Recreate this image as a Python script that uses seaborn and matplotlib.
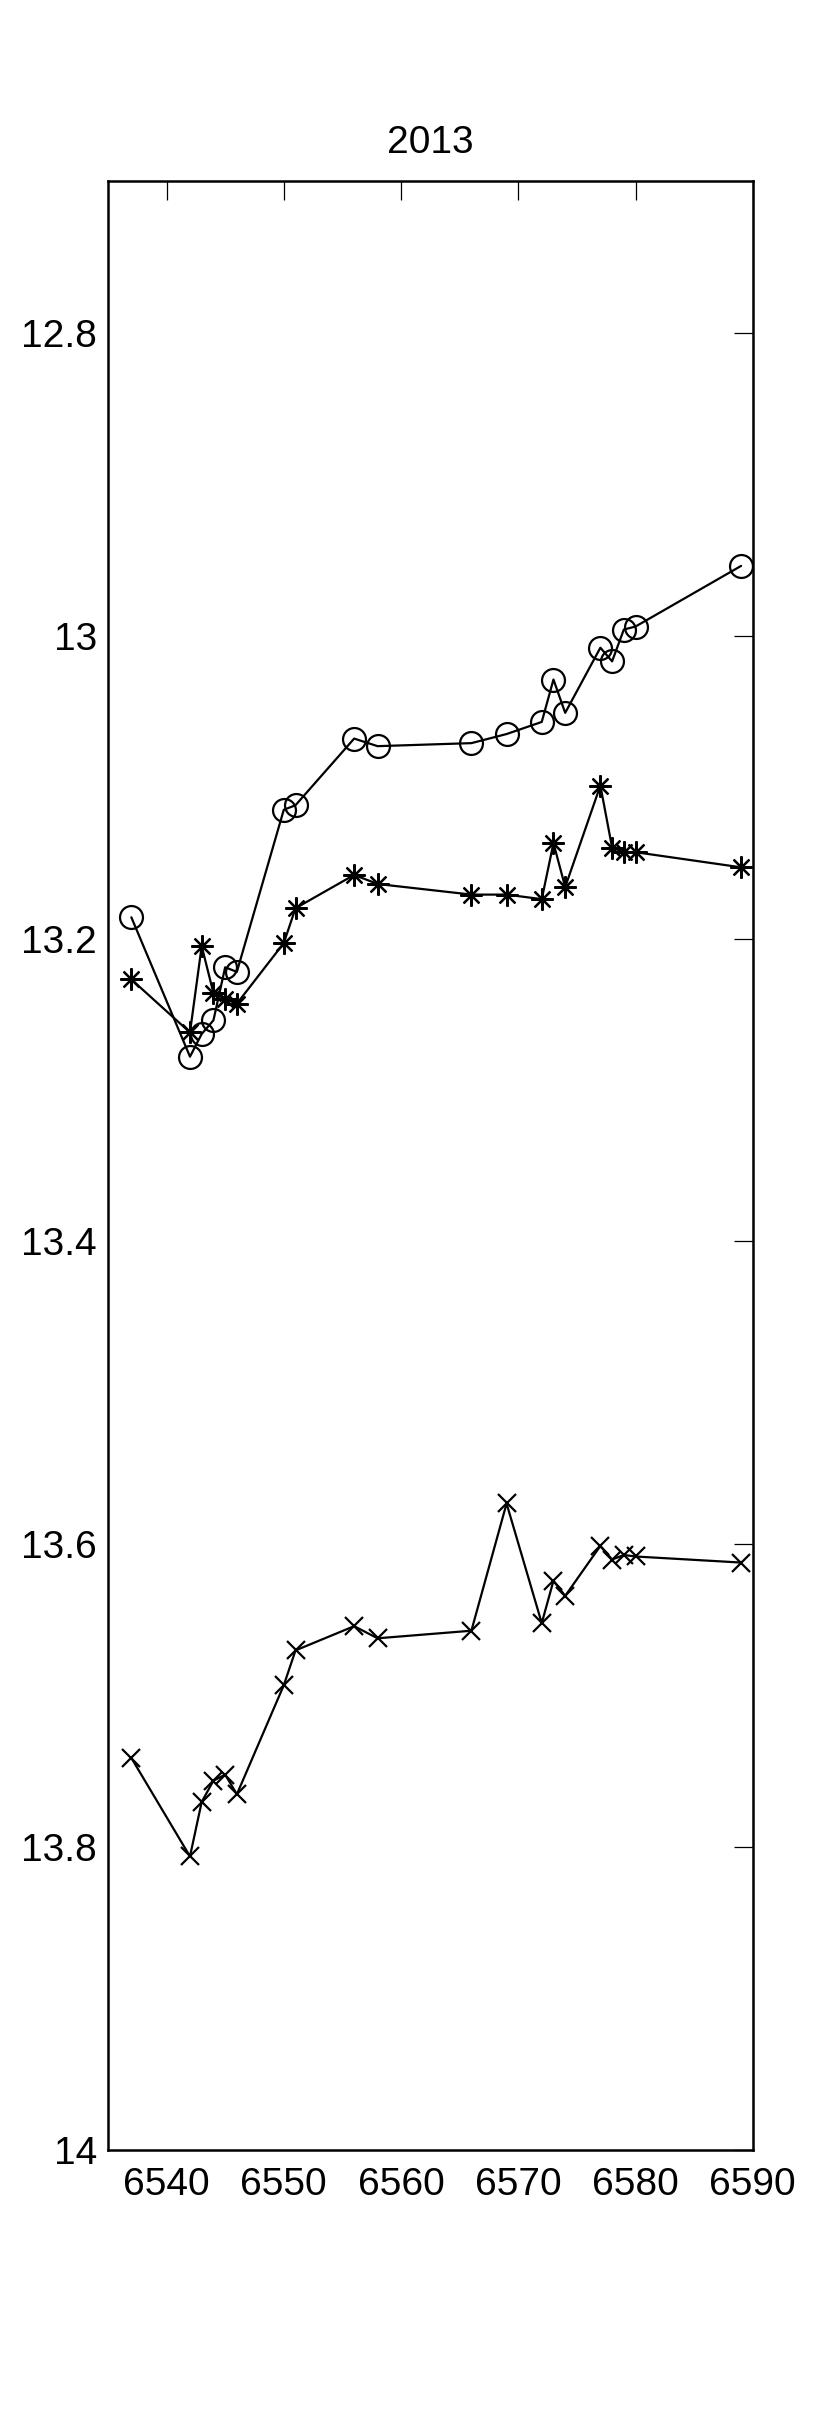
import numpy as np
import pandas as pd
import matplotlib
matplotlib.use("Agg")
import matplotlib.pyplot as plt
import seaborn as sns
from matplotlib.ticker import FuncFormatter

# x positions shared by all three series
days = [6537, 6542, 6543, 6544, 6545, 6546, 6550, 6551, 6556, 6558,
        6566, 6569, 6572, 6573, 6574, 6577, 6578, 6579, 6580, 6589]

# circles (top series)
circ_vals = [13.186, 13.278, 13.263, 13.254, 13.219, 13.222, 13.115, 13.112,
             13.068, 13.073, 13.071, 13.065, 13.057, 13.029, 13.051, 13.008,
             13.017, 12.996, 12.994, 12.954]

# asterisks (middle series)
ast_vals = [13.227, 13.262, 13.205, 13.236, 13.240, 13.243, 13.203, 13.180,
            13.158, 13.164, 13.171, 13.171, 13.174, 13.137, 13.166, 13.099,
            13.140, 13.143, 13.143, 13.153]

# crosses (bottom series)
cross_vals = [13.741, 13.806, 13.770, 13.756, 13.752, 13.765, 13.693, 13.670,
              13.654, 13.662, 13.657, 13.573, 13.652, 13.624, 13.634, 13.601,
              13.610, 13.607, 13.608, 13.612]

title = "2013"
x_ticks = [6540, 6550, 6560, 6570, 6580, 6590]
y_ticks = [12.8, 13.0, 13.2, 13.4, 13.6, 13.8, 14.0]

sns.set_style("white")
plt.rcParams['font.family'] = ['Liberation Sans Narrow', 'Liberation Sans', 'DejaVu Sans']
plt.rcParams['text.color'] = 'black'

fig = plt.figure(figsize=(8.3, 24.16), dpi=100)
ax = fig.add_axes([0.130, 0.110, 0.777, 0.815])

series = [
    (circ_vals, dict(marker='o', markersize=16.5, fillstyle='none', markeredgewidth=1.6)),
    (ast_vals, dict(marker=(8, 2, 0), markersize=16, markeredgewidth=1.6)),
    (cross_vals, dict(marker='x', markersize=13, markeredgewidth=1.6)),
]
for vals, mk in series:
    df = pd.DataFrame({"day": days, "mag": vals})
    sns.lineplot(data=df, x="day", y="mag", ax=ax, color="black",
                 linewidth=1.6, estimator=None, sort=False,
                 markeredgecolor="black", **mk)

ax.set_xlim(6535, 6590)
ax.set_ylim(14.0, 12.7)
ax.set_xticks(x_ticks)
ax.set_yticks(y_ticks)
ax.yaxis.set_major_formatter(FuncFormatter(lambda v, p: f"{v:g}"))
ax.set_xlabel("")
ax.set_ylabel("")
ax.set_title(title, fontsize=28, pad=20, color='black')

ax.tick_params(direction='in', length=14, width=0.9, labelsize=28,
               top=True, right=True, colors='black')
ax.tick_params(axis='x', pad=12)
ax.tick_params(axis='y', pad=8)
for sp in ax.spines.values():
    sp.set_linewidth(1.8)
    sp.set_color('black')
    sp.set_visible(True)

fig.savefig("out.png", dpi=100, facecolor="white")
